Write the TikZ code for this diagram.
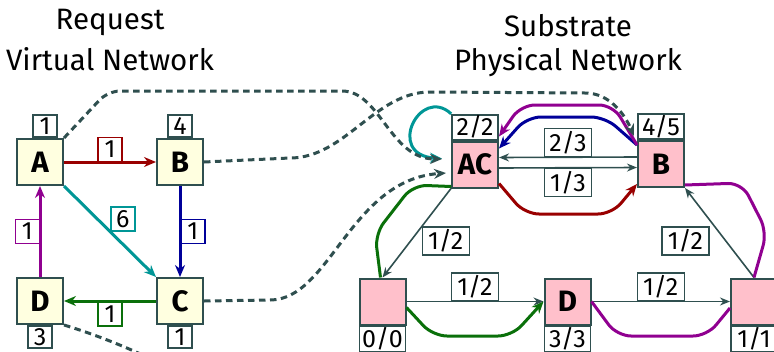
\documentclass[tikz,border=0pt]{standalone}
\usepackage{fontspec}
\setmainfont{Fira Sans}
\usetikzlibrary{arrows.meta,calc}

\definecolor{linegray}{HTML}{2F4F4F}
\definecolor{vfill}{HTML}{FFFFE0}
\definecolor{pfill}{HTML}{FFC0CB}
\definecolor{cred}{HTML}{990000}
\definecolor{cblue}{HTML}{000099}
\definecolor{cteal}{HTML}{009696}
\definecolor{cgreen}{HTML}{0A700A}
\definecolor{cpurple}{HTML}{900090}

\begin{document}
\begin{tikzpicture}[x=1pt,y=-1pt,
  vnode/.style={draw=linegray, fill=vfill, line width=2pt, minimum size=46pt, inner sep=0pt,
    font=\fontsize{29.5}{31}\selectfont\bfseries},
  pnode/.style={vnode, fill=pfill},
  vnum/.style={draw=linegray, fill=white, line width=1.7pt, minimum width=24pt, minimum height=22pt,
    inner sep=0pt, font=\fontsize{25}{26}\selectfont},
  pnum/.style={vnum, minimum width=46pt, minimum height=25pt},
  vlab/.style={fill=white, line width=1.5pt, minimum width=24pt, minimum height=24pt, inner sep=0pt,
    font=\fontsize{25}{26}\selectfont, text=black},
  plab/.style={draw=linegray, fill=white, line width=1.5pt, minimum width=47pt, minimum height=28pt,
    inner sep=0pt, font=\fontsize{25}{26}\selectfont, text=black},
  tip/.style={-{Stealth[length=12pt,width=10pt]}},
  vlink/.style={line width=3pt, tip},
  plink/.style={draw=linegray, line width=1.6pt, -{Stealth[length=10pt,width=8pt]}},
  route/.style={line width=3pt, rounded corners=14pt},
  mapto/.style={draw=linegray, line width=3pt, dash pattern=on 6.5pt off 4.5pt, tip},
  title/.style={align=center, anchor=base},
]
\useasboundingbox (0,0) rectangle (774,351);
\clip (0,0) rectangle (774,351);

% titles
\node[title, font=\fontsize{29.5}{41}\selectfont] (tv) at (110,70) {Request\\Virtual Network};
\node[title, font=\fontsize{29.5}{34}\selectfont] (tp) at (568,70) {Substrate\\Physical Network};

% request (virtual) network
\node[vnode] (vA) at (40,162) {A};
\node[vnode] (vB) at (180,162) {B};
\node[vnode] (vC) at (180,301) {C};
\node[vnode] (vD) at (40,301) {D};
\node[vnum, anchor=south, xshift=5pt] (vAn) at (vA.north) {1};
\node[vnum, anchor=south] (vBn) at (vB.north) {4};
\node[vnum, anchor=north] (vCn) at (vC.south) {1};
\node[vnum, anchor=north] (vDn) at (vD.south) {3};

\draw[vlink, cred] (vA) -- node[vlab, draw=cred, anchor=south] {1} (vB);
\draw[vlink, cblue] (vB) -- node[vlab, draw=cblue, anchor=west] {1} (vC);
\draw[vlink, cteal] (vA.south east) -- node[vlab, draw=cteal, anchor=south west] {6} (vC.north west);
\draw[vlink, cgreen] (vC) -- node[vlab, draw=cgreen, anchor=north] {1} (vD);
\draw[vlink, cpurple] (vD) -- node[vlab, draw=cpurple, anchor=east] {1} (vA);

% substrate (physical) network
\node[pnode] (pAC) at (475,164.5) {AC};
\node[pnode] (pB) at (661,164) {B};
\node[pnode] (pX) at (382.5,301.5) {};
\node[pnode] (pD) at (567.5,301.5) {D};
\node[pnode] (pY) at (754,301.5) {};
\node[pnum, anchor=south] (pACn) at (pAC.north) {2/2};
\node[pnum, anchor=south] (pBn) at (pB.north) {4/5};
\node[pnum, anchor=north] (pXn) at (pX.south) {0/0};
\node[pnum, anchor=north] (pDn) at (pD.south) {3/3};
\node[pnum, anchor=north] (pYn) at (pY.south) {1/1};

\draw[plink] ([yshift=7pt]pB.west) -- node[plab, anchor=south] {2/3} ([yshift=7pt]pAC.east);
\draw[plink] ([yshift=-3.5pt]pAC.east) -- node[plab, anchor=north] {1/3} ([yshift=-3.5pt]pB.west);
\draw[plink] (pAC.south west) -- node[plab, xshift=29pt, yshift=-8pt] {1/2} (pX.north);
\draw[plink] (pY.north) -- node[plab, xshift=-34pt, yshift=-8pt] {1/2} (pB.south east);
\draw[plink] (pX) -- node[plab, anchor=south] {1/2} (pD);
\draw[plink] (pD) -- node[plab, anchor=south] {1/2} (pY);

% embedded virtual links
\draw[route, cred, tip] ([yshift=5pt]pAC.south east) -- (525,214) -- (612,214) -- ([yshift=4pt]pB.south west);
\draw[cteal, line width=3pt, tip] (pACn.north west) .. controls (420,85) and (385,155) .. ([xshift=-9pt,yshift=6pt]pAC.west);
\draw[route, cblue, tip] ([yshift=-5pt]pB.north west) -- (605,117) -- (527,117) -- ([yshift=-8pt]pAC.north east);
\draw[route, cpurple, tip] ([yshift=-5pt]pB.north west) -- (613,105) -- (521,105) -- ([yshift=4pt]pAC.north east);
\draw[route, cpurple] (pY.north) -- (767,232) -- (742,183) -- ([yshift=3pt]pB.south east);
\draw[route, cpurple] (pD.east) -- (617,336) -- (707,336) -- ([yshift=-6.5pt]pY.west);
\draw[route, cgreen] ([yshift=2pt]pAC.south west) -- (413,185) -- (375,234) -- ([xshift=-2pt]pX.north);
\draw[route, cgreen, tip] ([yshift=-6pt]pX.east) -- (433,336) -- (512,336) -- (pD.west);

% node mapping
\coordinate (vDout) at (250,420);
\draw[mapto, rounded corners=12pt] (vA.north east) -- (108,91) -- (330,91)
  .. controls (380,91) and (390,159) .. ([xshift=-9pt,yshift=5.5pt]pAC.west);
\draw[mapto] (vB.east) -- (290,158) .. controls (345,158) and (375,92) .. (430,92) -- (585,93)
  .. controls (610,93) and (625,115) .. ([xshift=-3pt,yshift=4pt]pB.north west);
\draw[mapto] (vC.east) -- (270,300) .. controls (330,300) and (350,180) .. ([xshift=-5pt,yshift=-8.5pt]pAC.west);
\draw[mapto] (vD.south east) .. controls (130,345) and (200,380) .. (vDout);
\end{tikzpicture}
\end{document}
